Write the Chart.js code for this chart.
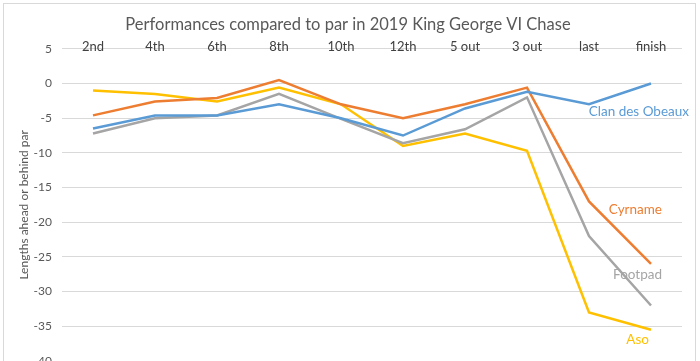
<!DOCTYPE html>
<html lang="en">

<head>
  <meta charset="utf-8">
  <title>King George VI Chase</title>
  <script src="https://cdn.jsdelivr.net/npm/chart.js@4.4.1/dist/chart.umd.min.js"></script>
  <style>
    body {
      margin: 0;
      background: #fff;
    }
    .wrap {
      position: relative;
      width: 700px;
      height: 361px;
      overflow: hidden;
    }
    .frame {
      position: absolute;
      left: 3px;
      top: 3px;
      width: 691px;
      height: 380px;
      border: 1px solid #d9d9d9;
      pointer-events: none;
    }
  </style>
</head>

<body>
  <div class="wrap">
    <canvas id="lineChart" width="700" height="361"></canvas>
    <div class="frame"></div>
  </div>

  <script>
    // data
    const fences = ['2nd', '4th', '6th', '8th', '10th', '12th', '5 out', '3 out', 'last', 'finish']
    const clanDesObeaux = [-6.5, -4.6, -4.6, -3, -5, -7.5, -3.6, -1.2, -3, 0]
    const cyrname = [-4.6, -2.6, -2.1, 0.5, -3, -5, -3, -0.6, -17, -26]
    const footpad = [-7.2, -5, -4.6, -1.5, -5.1, -8.6, -6.6, -2, -22, -32]
    const aso = [-1, -1.5, -2.6, -0.6, -3, -9, -7.2, -9.7, -33, -35.5]
    const yTicks = [5, 0, -5, -10, -15, -20, -25, -30, -35, -40]

    // label next to the last point of each line (offset from the point)
    const endLabel = [
      { dx: 38, dy: 28 },
      { dx: 11, dy: -54 },
      { dx: 11, dy: -31 },
      { dx: -2, dy: 10 }
    ]

    const fontFamily = 'Lato, "Open Sans", sans-serif'

    const endLabels = {
      id: 'endLabels',
      afterDatasetsDraw(chart) {
        const ctx = chart.ctx
        ctx.save()
        ctx.font = '13.5px ' + fontFamily
        ctx.textAlign = 'right'
        ctx.textBaseline = 'middle'
        chart.data.datasets.forEach(function (ds, i) {
          const meta = chart.getDatasetMeta(i)
          const pt = meta.data[meta.data.length - 1]
          ctx.fillStyle = ds.borderColor
          ctx.fillText(ds.label, pt.x + endLabel[i].dx, pt.y + endLabel[i].dy)
        })
        ctx.restore()
      }
    }

    function series(label, data, color) {
      return {
        label: label,
        data: data,
        borderColor: color,
        backgroundColor: color,
        borderWidth: 2.5,
        pointRadius: 0,
        tension: 0,
        fill: false
      }
    }

    new Chart(document.getElementById('lineChart'), {
      type: 'line',
      data: {
        labels: fences,
        datasets: [
          series('Clan des Obeaux', clanDesObeaux, '#5B9BD5'),
          series('Cyrname', cyrname, '#ED7D31'),
          series('Footpad', footpad, '#A5A5A5'),
          series('Aso', aso, '#FFC000')
        ]
      },
      options: {
        responsive: false,
        animation: false,
        layout: {
          padding: { top: 0, left: 14, right: 18, bottom: 0 }
        },
        plugins: {
          legend: { display: false },
          tooltip: { enabled: false },
          title: {
            display: true,
            text: 'Performances compared to par in 2019 King George VI Chase',
            color: '#595959',
            font: { family: fontFamily, size: 16.5, weight: 'normal' },
            padding: { top: 15, bottom: 14 }
          }
        },
        scales: {
          x: {
            position: 'top',
            offset: true,
            grid: { display: false, drawTicks: false },
            border: { display: false },
            ticks: {
              color: '#404040',
              mirror: true,
              padding: -10,
              maxRotation: 0,
              font: { family: fontFamily, size: 13 }
            },
            afterFit(scale) {
              scale.height = 0
            }
          },
          y: {
            min: -40,
            max: 5,
            afterBuildTicks(scale) {
              scale.ticks = yTicks.map(function (v) { return { value: v } })
            },
            grid: { color: '#d9d9d9', lineWidth: 1, drawTicks: false },
            border: { display: false },
            ticks: {
              color: '#595959',
              padding: 10,
              font: { family: fontFamily, size: 12 }
            },
            title: {
              display: true,
              text: 'Lengths ahead or behind par',
              color: '#595959',
              padding: { top: 3, bottom: 0 },
              font: { family: fontFamily, size: 12 }
            },
            afterFit(scale) {
              scale.width = 48
              scale.paddingTop = 0
              scale.paddingBottom = 0
            }
          }
        }
      },
      plugins: [endLabels]
    })
  </script>
</body>

</html>
